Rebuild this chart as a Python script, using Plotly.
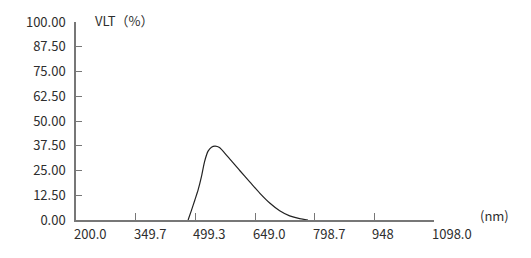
import plotly.graph_objects as go

wavelength_nm = [481.2, 489.8, 498.0, 506.3, 514.8, 522.5, 531.3, 539.8, 549.0, 559.9, 580.7, 610.7, 635.8, 660.8, 685.9, 710.9, 736.0, 761.0, 781.8]
vlt_percent = [0, 5.0, 10.0, 15.2, 22.0, 29.5, 34.8, 36.8, 37.3, 36.6, 32.0, 25.0, 19.3, 13.6, 8.6, 4.7, 2.1, 0.7, 0]

x_tick_vals = [200.0, 349.7, 499.3, 649.0, 798.7, 948, 1098.0]
x_tick_text = ["200.0", "349.7", "499.3", "649.0", "798.7", "948", "1098.0"]
y_tick_vals = [0, 12.5, 25, 37.5, 50, 62.5, 75, 87.5, 100]

FONT = "Noto Sans CJK SC"
TXT = "#2e2e2e"
AX = "#777777"

fig = go.Figure()
fig.add_trace(go.Scatter(
    x=wavelength_nm, y=vlt_percent, mode="lines",
    line=dict(color="#222222", width=1.2, shape="spline", smoothing=0.6),
    hoverinfo="skip", showlegend=False,
))

annotations = []
for v, t in zip(x_tick_vals, x_tick_text):
    annotations.append(dict(
        x=v, xref="x", y=0, yref="paper", text=t, showarrow=False,
        xanchor="left", yanchor="middle", xshift=-4, yshift=-13,
        font=dict(family=FONT, size=13, color=TXT),
    ))
annotations.append(dict(
    x=0.047, xref="paper", y=1.01, yref="paper", text="VLT（%）", showarrow=False,
    xanchor="left", yanchor="middle", font=dict(family=FONT, size=13, color=TXT),
))
annotations.append(dict(
    x=1.122, xref="paper", y=0.025, yref="paper", text="(nm)", showarrow=False,
    xanchor="left", yanchor="middle", font=dict(family=FONT, size=13, color=TXT),
))

fig.update_layout(
    width=531, height=258,
    margin=dict(l=76, r=97, t=19, b=38),
    paper_bgcolor="white", plot_bgcolor="white",
    font=dict(family=FONT, size=13, color=TXT),
    xaxis=dict(
        range=[200, 1098], tickvals=x_tick_vals, showticklabels=False,
        ticks="inside", ticklen=7, tickwidth=1.2, tickcolor=AX,
        showline=True, linecolor=AX, linewidth=1.5,
        showgrid=False, zeroline=False, fixedrange=True,
    ),
    yaxis=dict(
        range=[0, 100], tickvals=y_tick_vals, tickformat=".2f",
        ticks="inside", ticklen=6, tickwidth=1.2, tickcolor=AX,
        showline=True, linecolor=AX, linewidth=1.5,
        showgrid=False, zeroline=False, fixedrange=True,
        ticklabelstandoff=6,
        tickfont=dict(family=FONT, size=13, color=TXT),
    ),
    annotations=annotations,
)

fig.write_html("out.html")
